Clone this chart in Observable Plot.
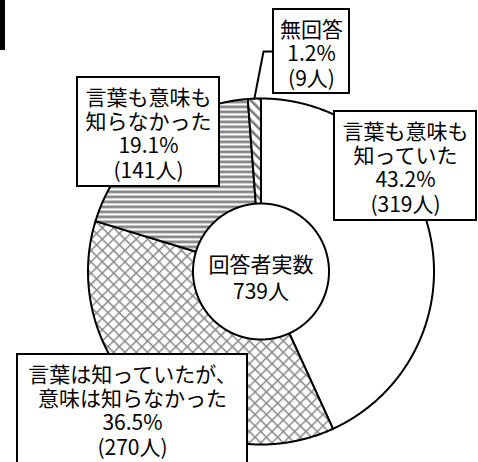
<!DOCTYPE html>
<html><head><meta charset="utf-8">
<script src="https://cdn.jsdelivr.net/npm/d3@7"></script>
<script src="https://cdn.jsdelivr.net/npm/@observablehq/plot@0.6"></script>
<style>html,body{margin:0;padding:0;background:#fff;overflow:hidden}</style>
</head><body>
<script>
// ---- data ----
const categories = ["言葉も意味も\n知っていた", "言葉は知っていたが、\n意味は知らなかった", "言葉も意味も\n知らなかった", "無回答"];
const percents = [43.2, 36.5, 19.1, 1.2];
const counts = [319, 270, 141, 9];
const totalLabel = "回答者実数";
const totalCount = 739;

// ---- layout (pixels) ----
const W = 478, H = 462;
const cx = 260.5, cy = 271, R = 173, rInner = 68;
const xs = px => (px - cx) / R;
const ys = py => (cy - py) / R;
const fills = ["white", "url(#xhatch)", "url(#hstripe)", "url(#dstripe)"];
const boxes = [
  {x1: 334, x2: 476, y1: 111, y2: 220, ty: 167},
  {x1: 17, x2: 247, y1: 354, y2: 470, ty: 410},
  {x1: 77, x2: 219, y1: 77, y2: 186, ty: 133},
  {x1: 273, x2: 349, y1: 9, y2: 93, ty: 53}
];
const elbow = [[263, 51], [273, 51]];

// ---- geometry from data ----
const arcs = d3.pie().sort(null).value(d => d)(counts);
function arcPoints(a0, a1, r) {
  const n = Math.max(2, Math.ceil((a1 - a0) / (Math.PI / 720)));
  const pts = [];
  for (let i = 0; i <= n; i++) {
    const a = a0 + (a1 - a0) * i / n;
    pts.push({x: r * Math.sin(a), y: r * Math.cos(a)});
  }
  return pts;
}
const slices = arcs.map(a => [{x: 0, y: 0}, ...arcPoints(a.startAngle, a.endAngle, 1), {x: 0, y: 0}]);
const inner = arcPoints(0, 2 * Math.PI, rInner / R);

const labels = categories.map((c, i) => ({
  text: `${c}\n${percents[i].toFixed(1)}%\n(${counts[i]}人)`,
  x: xs((boxes[i].x1 + boxes[i].x2) / 2),
  y: ys(boxes[i].ty),
  x1: xs(boxes[i].x1), x2: xs(boxes[i].x2),
  y1: ys(boxes[i].y1), y2: ys(boxes[i].y2)
}));

const na = arcs[3];
const mid = (na.startAngle + na.endAngle) / 2;
const leader = [{x: Math.sin(mid), y: Math.cos(mid)}, ...elbow.map(([px, py]) => ({x: xs(px), y: ys(py)}))];

const font = "'Noto Sans CJK JP', 'Noto Sans', sans-serif";

const plot = Plot.plot({
  width: W, height: H,
  margin: 0,
  x: {domain: [xs(0), xs(W)], range: [0, W], axis: null},
  y: {domain: [ys(H), ys(0)], range: [H, 0], axis: null},
  style: {fontFamily: font, background: "white", overflow: "hidden"},
  marks: [
    ...slices.map((s, i) => Plot.line(s, {x: "x", y: "y", fill: fills[i], stroke: "black", strokeWidth: 2, strokeLinejoin: "round"})),
    Plot.line(inner, {x: "x", y: "y", fill: "white", stroke: "black", strokeWidth: 2}),
    Plot.line(leader, {x: "x", y: "y", stroke: "black", strokeWidth: 2}),
    Plot.rect(labels, {x1: "x1", x2: "x2", y1: "y1", y2: "y2", fill: "white", stroke: "black", strokeWidth: 2}),
    Plot.text(labels, {x: "x", y: "y", text: "text", fontSize: 21, lineHeight: 1.16, fill: "black", lineAnchor: "middle", textAnchor: "middle"}),
    Plot.text([{x: 0, y: 0, t: `${totalLabel}\n${totalCount}人`}], {x: "x", y: "y", text: "t", dy: 5, fontSize: 21, lineHeight: 1.3, fill: "black", lineAnchor: "middle"}),
    Plot.rect([{x1: xs(0), x2: xs(5), y1: ys(0), y2: ys(50)}], {x1: "x1", x2: "x2", y1: "y1", y2: "y2", fill: "black"})
  ]
});

d3.select(plot).insert("defs", ":first-child").html(`
  <pattern id="hstripe" patternUnits="userSpaceOnUse" width="10" height="5">
    <rect width="10" height="5" fill="white"/>
    <rect y="0" width="10" height="2.8" fill="#858585"/>
  </pattern>
  <pattern id="dstripe" patternUnits="userSpaceOnUse" width="7" height="7" patternTransform="rotate(-45)">
    <rect width="7" height="7" fill="white"/>
    <rect x="0" width="2.6" height="7" fill="#7a7a7a"/>
  </pattern>
  <pattern id="xhatch" patternUnits="userSpaceOnUse" width="8" height="8" patternTransform="rotate(45)">
    <rect width="8" height="8" fill="white"/>
    <path d="M0,0.7H8M0.7,0V8" stroke="#888" stroke-width="1.5"/>
  </pattern>
`);
document.body.appendChild(plot);
</script>
</body></html>
